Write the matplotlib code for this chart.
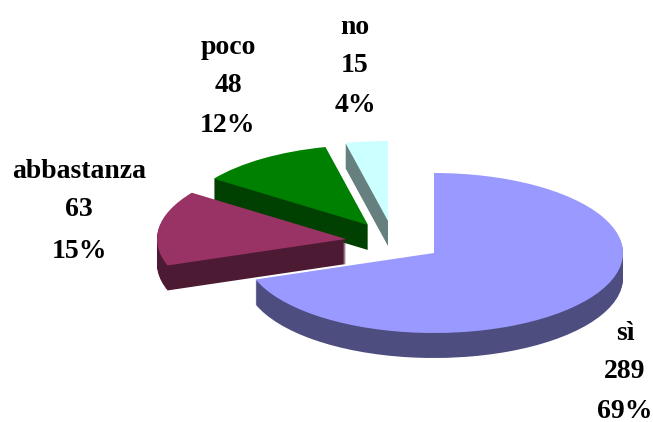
import matplotlib
matplotlib.use('Agg')
import matplotlib.pyplot as plt
from matplotlib.patches import Wedge
from matplotlib.transforms import Affine2D

# values
labels = ['sì', 'abbastanza', 'poco', 'no']
values = [289, 63, 48, 15]
percents = ['69%', '15%', '12%', '4%']

# look of each slice
top_colors = ['#9999ff', '#993366', '#008000', '#ccffff']
side_colors = ['#4d4d80', '#4d1a33', '#004000', '#668080']
centers_px = [(434, 253), (346, 239), (368, 225), (388, 221)]
label_x = [625, 79, 228, 355]
label_y = [(334, 372, 411), (172, 210, 251), (47, 86, 125), (27, 65, 106)]

H = 422
rx, ry = 189, 80
depth = 25

fig = plt.figure(figsize=(6.53, 4.22), dpi=100)
ax = fig.add_axes([0, 0, 1, 1])
ax.set_xlim(0, 653)
ax.set_ylim(0, H)
ax.axis('off')

# clockwise from 12 o'clock
total = sum(values)
angles = []
a = 90.0
for v in values:
    b = a - 360.0 * v / total
    angles.append((b, a))
    a = b


def draw_slice(i):
    cx, cy = centers_px[i]
    th1, th2 = angles[i]
    # side is the top slice swept downwards, one pixel at a time
    for k in range(depth, 0, -1):
        tr = Affine2D().scale(rx, ry).translate(cx, H - cy - k) + ax.transData
        ax.add_patch(Wedge((0, 0), 1, th1, th2, transform=tr,
                           facecolor=side_colors[i], edgecolor='none'))
    tr = Affine2D().scale(rx, ry).translate(cx, H - cy) + ax.transData
    ax.add_patch(Wedge((0, 0), 1, th1, th2, transform=tr,
                       facecolor=top_colors[i], edgecolor='none'))


# back to front
for i in [3, 2, 1, 0]:
    draw_slice(i)

for i in range(len(labels)):
    lines = [labels[i], str(values[i]), percents[i]]
    for line, y in zip(lines, label_y[i]):
        ax.text(label_x[i], H - y, line, ha='center', va='center',
                family='Liberation Serif', fontweight='bold', fontsize=20,
                color='black')

fig.savefig('out.png', dpi=100)
